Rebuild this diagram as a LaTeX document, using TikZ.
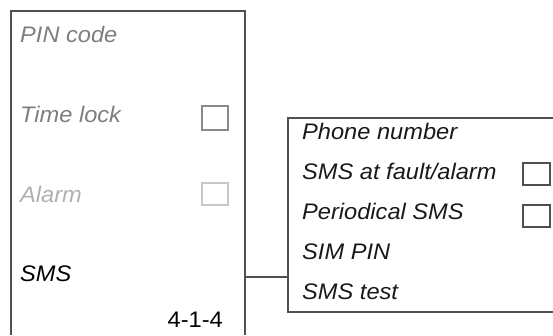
\documentclass[tikz,border=0pt]{standalone}
\usepackage{fontspec}
\setmainfont{Liberation Sans}
\newfontfamily\lblfont[FakeStretch=1.05]{Liberation Sans}
\definecolor{frame}{HTML}{505050}
\definecolor{dimA}{HTML}{7E7E7E}
\definecolor{dimB}{HTML}{B0B0B0}
\definecolor{boxA}{HTML}{8A8A8A}
\definecolor{boxB}{HTML}{C8C8C8}
\tikzset{
  lbl/.style={inner sep=0pt, anchor=base west, font=\lblfont\itshape\fontsize{22.5}{26}\selectfont},
  num/.style={inner sep=0pt, anchor=base east, font=\lblfont\fontsize{22.5}{26}\selectfont},
  frameline/.style={draw=frame, line width=1.1pt},
  chk/.style={line width=1.1pt}
}
\begin{document}
\begin{tikzpicture}[x=1pt,y=-1pt]
\useasboundingbox (0,0) rectangle (553,335);
% left panel (open at bottom)
\draw[frameline] (11,335) -- (11,11) -- (245,11) -- (245,335);
% right panel (open at right)
\draw[frameline] (553,118) -- (288,118) -- (288,312) -- (553,312);
\coordinate (lp) at (245,277);
\coordinate (rp) at (288,277);
\draw[frameline] (lp) -- (rp);
% left texts
\node[lbl, text=dimA] (pin) at (20,42) {PIN code};
\node[lbl, text=dimA] (tl) at (20,122) {Time lock};
\node[lbl, text=dimB] (al) at (20,202) {Alarm};
\node[lbl, text=black] (sms) at (20,281) {SMS};
\node[num, text=black] (code) at (223,327) {4-1-4};
\draw[chk, draw=boxA] (202,106) rectangle (228,130);
\draw[chk, draw=boxB] (202,183) rectangle (228,205);
% right texts
\node[lbl, text=black!90] (ph) at (302,139) {Phone number};
\node[lbl, text=black!90] (sf) at (302,179) {SMS at fault/alarm};
\node[lbl, text=black!90] (ps) at (302,219) {Periodical SMS};
\node[lbl, text=black!90] (sp) at (302,259) {SIM PIN};
\node[lbl, text=black!90] (st) at (302,299) {SMS test};
\draw[chk, draw=frame] (523,163) rectangle (550,185);
\draw[chk, draw=frame] (523,205) rectangle (550,227);
\end{tikzpicture}
\end{document}
